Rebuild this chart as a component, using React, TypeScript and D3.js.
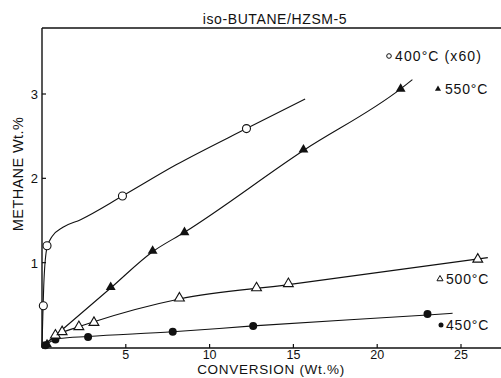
import React from "react";
import * as d3 from "d3";

const W = 501;
const H = 378;

const xTicks = [5, 10, 15, 20, 25];
const yTicks = [1, 2, 3];

// 400 °C (x60) – open circles
const x400 = [0.08, 0.3, 4.8, 12.2];
const y400 = [0.49, 1.2, 1.79, 2.59];
const fit400x = [0, 0.04, 0.12, 0.3, 0.6, 1.25, 2.3, 4.8, 8.0, 12.2, 15.7];
const fit400y = [0, 0.3, 0.8, 1.18, 1.31, 1.42, 1.51, 1.79, 2.16, 2.59, 2.94];

// 550 °C – filled triangles
const x550 = [0.3, 4.1, 6.6, 8.5, 15.6, 21.4];
const y550 = [0.03, 0.71, 1.14, 1.36, 2.34, 3.06];
const fit550x = [0, 4.1, 6.6, 8.5, 15.6, 21.4, 22.1];
const fit550y = [0, 0.7, 1.13, 1.36, 2.33, 3.06, 3.17];

// 500 °C – open triangles
const x500 = [0.8, 1.2, 2.2, 3.1, 8.2, 12.8, 14.7, 26.0];
const y500 = [0.14, 0.18, 0.24, 0.29, 0.58, 0.7, 0.75, 1.04];
const fit500x = [0, 0.8, 2.2, 3.1, 8.2, 14.7, 26.6];
const fit500y = [0, 0.13, 0.24, 0.3, 0.57, 0.74, 1.06];

// 450 °C – filled circles
const x450 = [0.2, 0.8, 2.75, 7.8, 12.6, 23.0];
const y450 = [0.02, 0.09, 0.12, 0.18, 0.25, 0.39];
const fit450x = [0, 1.0, 2.75, 7.8, 12.6, 23.0, 24.5];
const fit450y = [0, 0.1, 0.125, 0.18, 0.25, 0.38, 0.4];

const legendLabels = ["400°C (x60)", "550°C", "500°C", "450°C"];
const title = "iso-BUTANE/HZSM-5";
const xLabel = "CONVERSION (Wt.%)";
const yLabel = "METHANE Wt.%";

const FONT = "'Liberation Sans', Arial, Helvetica, sans-serif";

export default function App() {
  const x = d3.scaleLinear().domain([0, 25]).range([42, 461]);
  const y = d3.scaleLinear().domain([0, 3]).range([347, 94]);
  const left = 42;
  const top = 28;
  const bottom = 348;
  const right = 501;

  const line = d3
    .line<[number, number]>()
    .x((d) => x(d[0]))
    .y((d) => y(d[1]))
    .curve(d3.curveMonotoneX);

  const zip = (a: number[], b: number[]) => a.map((v, i) => [v, b[i]] as [number, number]);

  const tri = d3.symbol().type(d3.symbolTriangle).size(42)() as string;
  const triSmall = d3.symbol().type(d3.symbolTriangle).size(16)() as string;

  const fits = [
    zip(fit400x, fit400y),
    zip(fit550x, fit550y),
    zip(fit500x, fit500y),
    zip(fit450x, fit450y),
  ];

  return (
    <svg
      width={W}
      height={H}
      style={{ position: "absolute", left: 0, top: 0, background: "#fff" }}
      fontFamily={FONT}
    >
      <rect width={W} height={H} fill="#fff" />
      {/* title */}
      <text x={275} y={24} textAnchor="middle" fontSize={14} letterSpacing={0.6} fill="#111">
        {title}
      </text>
      {/* frame */}
      <line x1={left} x2={right} y1={top} y2={top} stroke="#111" strokeWidth={1.4} />
      <line x1={left} x2={left} y1={top} y2={bottom} stroke="#111" strokeWidth={1.4} />
      <line x1={left} x2={right} y1={bottom} y2={bottom} stroke="#111" strokeWidth={1.4} />
      {/* x ticks */}
      {xTicks.map((t) => (
        <g key={"xt" + t}>
          <line x1={x(t)} x2={x(t)} y1={bottom} y2={bottom - 4} stroke="#111" strokeWidth={1.2} />
          <text x={x(t)} y={359} textAnchor="middle" fontSize={12.5} fill="#111">
            {t}
          </text>
        </g>
      ))}
      {/* y ticks */}
      {yTicks.map((t) => (
        <g key={"yt" + t}>
          <line x1={left} x2={left + 4} y1={y(t)} y2={y(t)} stroke="#111" strokeWidth={1.2} />
          <text x={left - 4} y={y(t) + 5} textAnchor="end" fontSize={13} fill="#111">
            {t}
          </text>
        </g>
      ))}
      {/* axis labels */}
      <text x={271} y={374} textAnchor="middle" fontSize={13.5} letterSpacing={0.7} fill="#111">
        {xLabel}
      </text>
      <text
        transform={`translate(23,174) rotate(-90)`}
        textAnchor="middle"
        fontSize={14.5}
        letterSpacing={0.4}
        fill="#111"
      >
        {yLabel}
      </text>
      {/* fit lines */}
      {fits.map((f, i) => (
        <path key={"f" + i} d={line(f) as string} fill="none" stroke="#111" strokeWidth={1.1} />
      ))}
      {/* markers */}
      {x450.map((v, i) => (
        <circle key={"p450" + i} cx={x(v)} cy={y(y450[i])} r={4} fill="#111" />
      ))}
      {x550.map((v, i) => (
        <path key={"p550" + i} d={tri} transform={`translate(${x(v)},${y(y550[i])})`} fill="#111" />
      ))}
      {x500.map((v, i) => (
        <path
          key={"p500" + i}
          d={tri}
          transform={`translate(${x(v)},${y(y500[i])})`}
          fill="#fff"
          stroke="#111"
          strokeWidth={1.1}
        />
      ))}
      {x400.map((v, i) => (
        <circle key={"p400" + i} cx={x(v)} cy={y(y400[i])} r={4} fill="#fff" stroke="#111" strokeWidth={1.1} />
      ))}
      {/* legend labels */}
      <circle cx={389} cy={56} r={2.3} fill="#fff" stroke="#111" strokeWidth={1} />
      <text x={395} y={61} fontSize={14} letterSpacing={1.1} fill="#111">
        {legendLabels[0]}
      </text>
      <path d={triSmall} transform="translate(438,89)" fill="#111" />
      <text x={445} y={94} fontSize={14} letterSpacing={0.8} fill="#111">
        {legendLabels[1]}
      </text>
      <path d={triSmall} transform="translate(440,279)" fill="#fff" stroke="#111" strokeWidth={1} />
      <text x={446} y={284} fontSize={14} letterSpacing={0.8} fill="#111">
        {legendLabels[2]}
      </text>
      <circle cx={441} cy={325} r={2.5} fill="#111" />
      <text x={446} y={330} fontSize={14} letterSpacing={0.8} fill="#111">
        {legendLabels[3]}
      </text>
    </svg>
  );
}
